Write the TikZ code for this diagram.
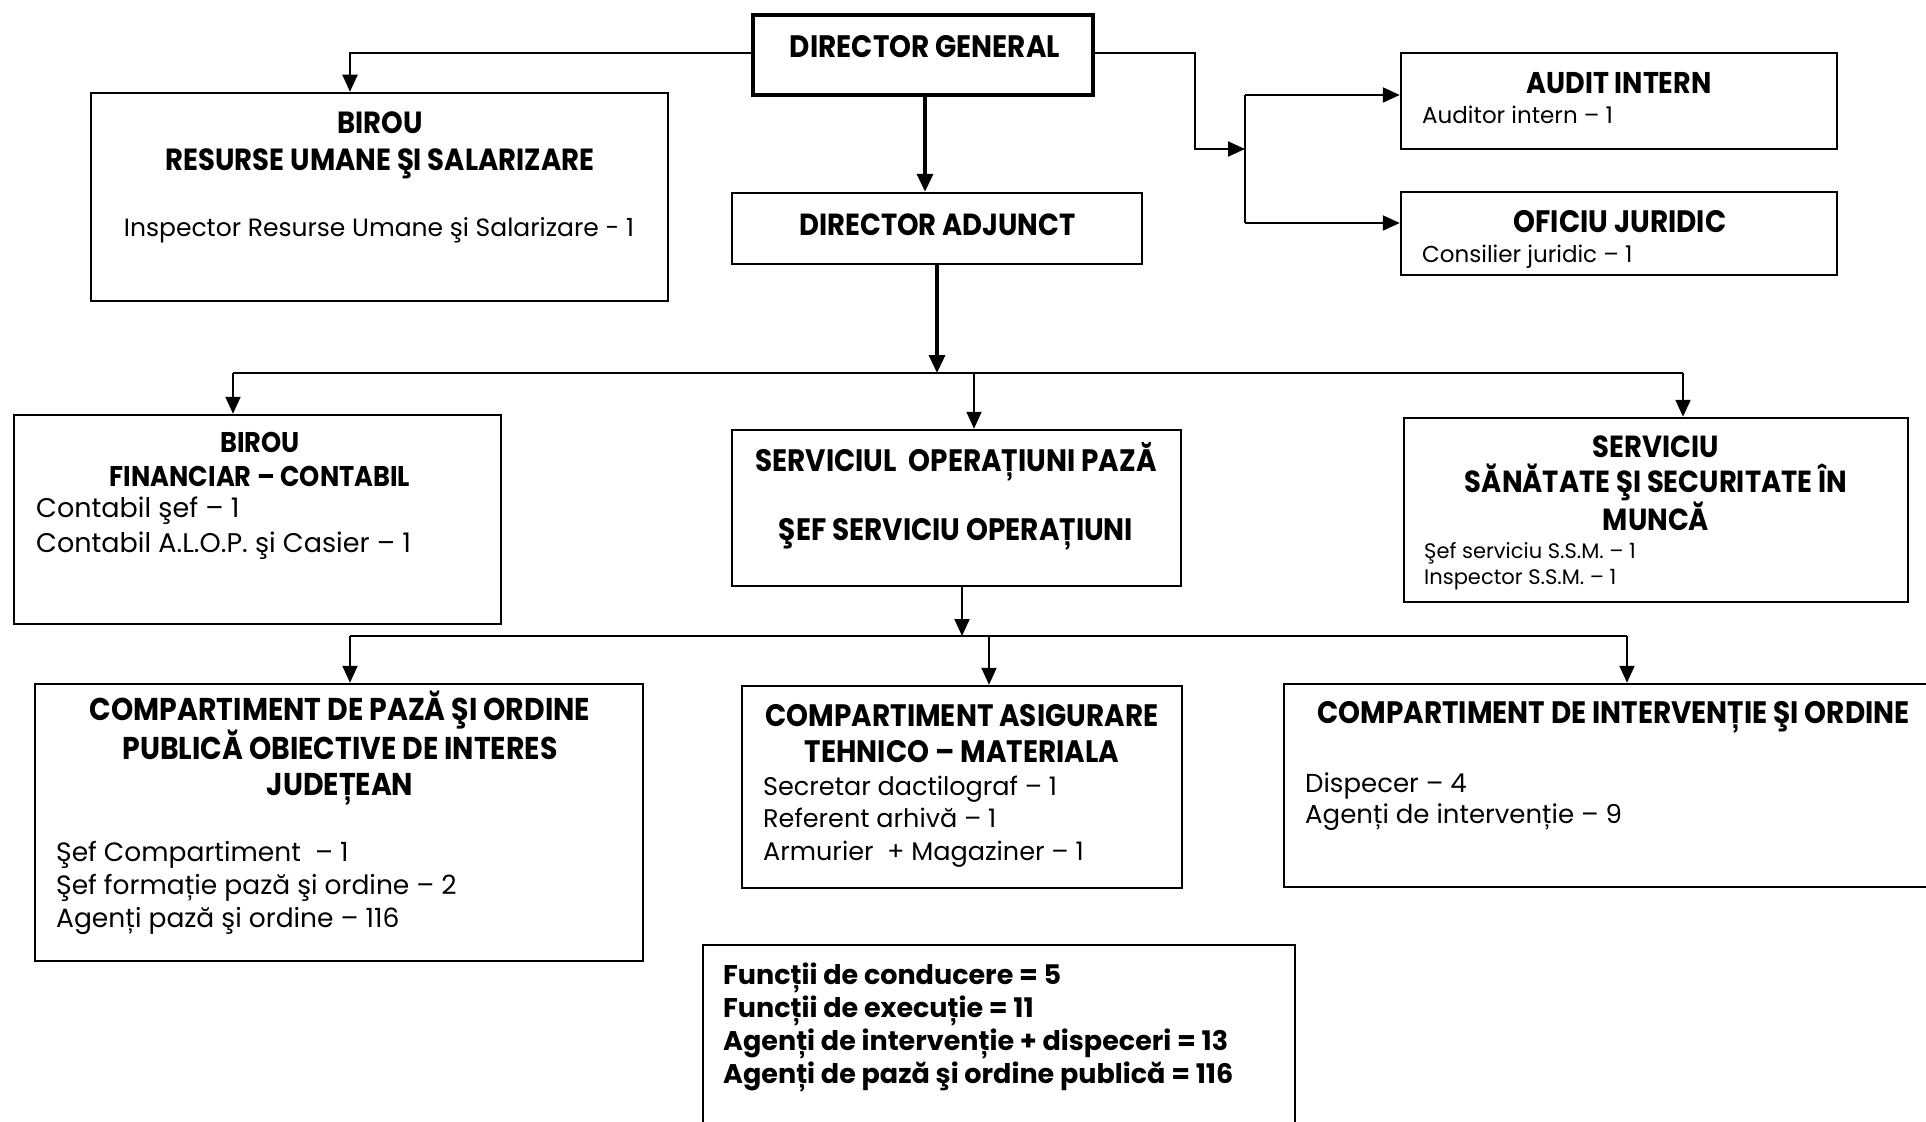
\documentclass[tikz,border=0pt]{standalone}
\usepackage{fontspec}
\setmainfont[FakeStretch=0.9]{Poppins}
\newfontfamily\bodyfont{Poppins}
\usetikzlibrary{arrows.meta}
\begin{document}
\begin{tikzpicture}[x=1pt,y=-1pt,
  box/.style={draw, line width=2.5pt, rectangle, inner sep=0pt},
  arr/.style={line width=2pt, -{Triangle[length=17pt,width=15pt]}},
  thickarr/.style={line width=3.5pt, -{Triangle[length=18pt,width=16pt]}},
  plain/.style={line width=2pt},
  hd/.style={font=\fontsize{31}{35}\selectfont\bfseries, align=center, anchor=base, inner sep=0pt},
  bd/.style={align=left, anchor=base west, inner sep=0pt}]
\useasboundingbox (0,0) rectangle (1926,1121);

% boxes
\node[box, line width=4pt, minimum width=340pt, minimum height=80pt] (dg) at (923,55) {};
\node[box, minimum width=577pt, minimum height=208pt] (hr) at (379.5,197) {};
\node[box, minimum width=410pt, minimum height=71pt] (da) at (937,228.5) {};
\node[box, minimum width=436pt, minimum height=96pt] (audit) at (1619,101) {};
\node[box, minimum width=436pt, minimum height=83pt] (jur) at (1619,233.5) {};
\node[box, minimum width=487pt, minimum height=209pt] (fin) at (257.5,519.5) {};
\node[box, minimum width=449pt, minimum height=156pt] (sop) at (956.5,508) {};
\node[box, minimum width=504pt, minimum height=184pt] (ssm) at (1656,510) {};
\node[box, minimum width=608pt, minimum height=277pt] (paza) at (339,822.5) {};
\node[box, minimum width=440pt, minimum height=202pt] (asig) at (962,787) {};
\node[box, minimum width=656pt, minimum height=203pt] (interv) at (1612,785.5) {};
\node[box, minimum width=592pt, minimum height=195pt] (sum) at (999,1042.5) {};

% texts (anchor base = baseline of last line)
\node[hd] (dgt) at (925,57.5) {DIRECTOR GENERAL};
\node[hd, font=\fontsize{30.6}{37}\selectfont\bfseries] (hrt) at (380,170) {BIROU\\RESURSE UMANE ŞI SALARIZARE};
\node[bd, anchor=base, font=\bodyfont\fontsize{25}{33}\selectfont] (hrb) at (379,236) {Inspector Resurse Umane şi Salarizare - 1};
\node[hd, font=\fontsize{30.5}{35}\selectfont\bfseries] (dat) at (937.5,235) {DIRECTOR ADJUNCT};
\node[hd, font=\fontsize{30}{35}\selectfont\bfseries] (auditt) at (1619,94) {AUDIT INTERN};
\node[bd, font=\bodyfont\fontsize{23}{33}\selectfont] (auditb) at (1422,124) {Auditor intern – 1};
\node[hd] (jurt) at (1620,232) {OFICIU JURIDIC};
\node[bd, font=\bodyfont\fontsize{23}{33}\selectfont] (jurb) at (1422,262) {Consilier juridic – 1};
\node[hd, font=\fontsize{28.5}{34}\selectfont\bfseries] (fint) at (260,486) {BIROU\\FINANCIAR – CONTABIL};
\node[bd, font=\bodyfont\fontsize{27}{35}\selectfont] (finb) at (36,552) {Contabil şef – 1\\Contabil A.L.O.P. şi Casier – 1};
\node[hd] (sopt) at (956,471) {SERVICIUL~~OPERAȚIUNI PAZĂ};
\node[hd] (sopu) at (956,540) {ŞEF SERVICIU OPERAȚIUNI};
\node[hd, font=\fontsize{30.5}{35.5}\selectfont\bfseries] (ssmt) at (1656,530.5) {SERVICIU\\SĂNĂTATE ŞI SECURITATE ÎN\\MUNCĂ};
\node[bd, font=\bodyfont\fontsize{21}{26}\selectfont] (ssmb) at (1424,584) {Şef serviciu S.S.M. – 1\\Inspector S.S.M. – 1};
\node[hd, font=\fontsize{31.5}{35.5}\selectfont\bfseries] (pazat) at (340,795) {COMPARTIMENT DE PAZĂ ŞI ORDINE\\PUBLICĂ OBIECTIVE DE INTERES\\JUDEȚEAN};
\node[bd, font=\bodyfont\fontsize{26.5}{33}\selectfont] (pazab) at (56,927) {Şef Compartiment~~– 1\\Şef formație pază şi ordine – 2\\Agenți pază şi ordine – 116};
\node[hd, font=\fontsize{31}{36}\selectfont\bfseries] (asigt) at (962,762) {COMPARTIMENT ASIGURARE\\TEHNICO – MATERIALA};
\node[bd, font=\bodyfont\fontsize{25.5}{32.5}\selectfont] (asigb) at (763,860) {Secretar dactilograf – 1\\Referent arhivă – 1\\Armurier~~+ Magaziner – 1};
\node[hd] (intervt) at (1613.5,723) {COMPARTIMENT DE INTERVENȚIE ŞI ORDINE};
\node[bd, font=\bodyfont\fontsize{26}{31}\selectfont] (intervb) at (1305,823) {Dispecer – 4\\Agenți de intervenție – 9};
\node[bd, font=\bodyfont\fontsize{27}{33}\selectfont\bfseries] (sumt) at (723,1083) {Funcții de conducere = 5\\Funcții de execuție = 11\\Agenți de intervenție + dispeceri = 13\\Agenți de pază şi ordine publică = 116};

% connectors
\coordinate (hrin) at (350,53);
\draw[arr] (dg.west |- hrin) -- (hrin) -- (hrin |- hr.north);
\coordinate (dgs) at (925,95);
\draw[thickarr] (dgs) -- (dgs |- da.north);
\coordinate (b1) at (937,373);
\coordinate (b1L) at (233,373);
\coordinate (b1M) at (974,373);
\coordinate (b1R) at (1683,373);
\draw[thickarr] (b1 |- da.south) -- (b1);
\draw[plain] (b1L) -- (b1R);
\draw[arr] (b1L) -- (b1L |- fin.north);
\draw[arr] (b1M) -- (b1M |- sop.north);
\draw[arr] (b1R) -- (b1R |- ssm.north);
\coordinate (b2) at (962,636);
\coordinate (b2L) at (350,636);
\coordinate (b2M) at (989,636);
\coordinate (b2R) at (1627,636);
\draw[arr] (b2 |- sop.south) -- (b2);
\draw[plain] (b2L) -- (b2R);
\draw[arr] (b2L) -- (b2L |- paza.north);
\draw[arr] (b2M) -- (b2M |- asig.north);
\draw[arr] (b2R) -- (b2R |- interv.north);
\coordinate (rj) at (1195,53);
\coordinate (j) at (1245,149);
\coordinate (ja) at (1245,95);
\coordinate (jo) at (1245,223);
\draw[arr] (dg.east |- rj) -- (rj) |- (j);
\draw[plain] (ja) -- (jo);
\draw[arr] (ja) -- (ja -| audit.west);
\draw[arr] (jo) -- (jo -| jur.west);
\end{tikzpicture}
\end{document}
